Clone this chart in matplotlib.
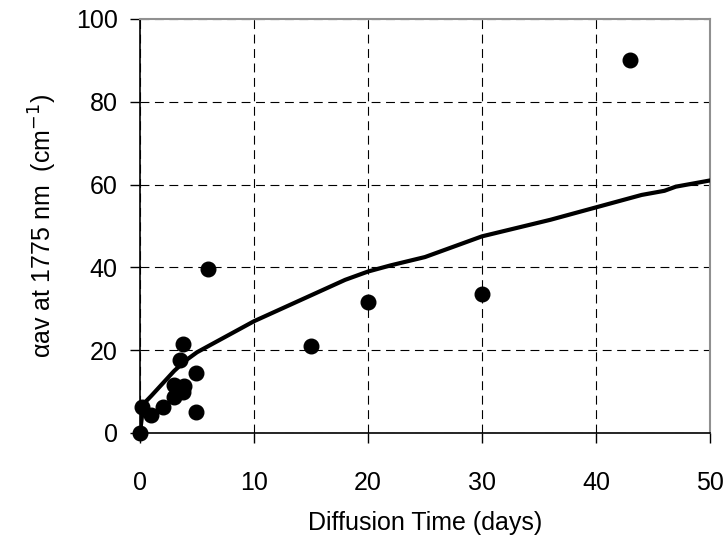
import numpy as np
import matplotlib.pyplot as plt

plt.rcParams['font.family'] = ['Liberation Sans', 'DejaVu Sans']

# measured absorption (points)
days = [0, 0.2, 1, 2, 3, 3, 3.5, 3.8, 3.8, 3.9, 4.9, 4.9, 6, 15, 20, 30, 43]
alpha = [0, 6.3, 4.4, 6.3, 8.8, 11.5, 17.6, 21.5, 10, 11.4, 14.5, 5, 39.5, 21, 31.7, 33.6, 90]

# model curve
model_t = [0, 0.3, 1, 2, 3, 4, 5, 6, 7, 8, 10, 12, 14, 16, 18, 20, 22, 25, 28, 30,
           33, 36, 40, 44, 46, 47, 48, 50]
model_a = [0, 7, 9, 12, 15, 17.5, 19.5, 21, 22.5, 24, 27, 29.5, 32, 34.5, 37, 39, 40.5,
           42.5, 45.5, 47.5, 49.5, 51.5, 54.5, 57.5, 58.5, 59.5, 60, 61]

fig = plt.figure(figsize=(7.28, 5.42), dpi=100)
ax = fig.add_axes([140/728, 1-433/542, 570/728, 414/542])

ax.plot(model_t, model_a, color='black', lw=3, solid_joinstyle='round', zorder=3)
ax.plot(days, alpha, 'o', color='black', ms=10.5, clip_on=False, zorder=4)

ax.set_xlim(0, 50)
ax.set_ylim(0, 100)
ax.set_xticks(np.arange(0, 51, 10))
ax.set_yticks(np.arange(0, 101, 20))

ax.grid(True, color='black', lw=0.8, linestyle=(0, (8, 5)))
ax.set_axisbelow(True)

for s in ['top', 'right']:
    ax.spines[s].set_color('#909090')
    ax.spines[s].set_linewidth(1.5)
for s in ['left', 'bottom']:
    ax.spines[s].set_linewidth(1.2)

ax.tick_params(axis='both', direction='out', length=7, width=1, labelsize=18)
ax.tick_params(axis='x', pad=20)
ax.tick_params(axis='y', pad=9)

ax.set_xlabel('Diffusion Time (days)', fontsize=18, labelpad=12)
ax.set_ylabel('\u03b1av at 1775 nm  (cm$^{-1}$)', fontsize=18, labelpad=12)

fig.savefig('out.png', dpi=100)
